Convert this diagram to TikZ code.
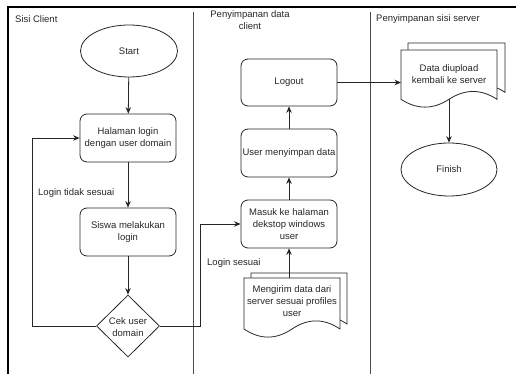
\documentclass[tikz,border=0pt]{standalone}
\usepackage{fontspec}
\setmainfont{Liberation Sans}
\usetikzlibrary{shapes.geometric,arrows.meta}
\definecolor{ink}{HTML}{262626}
\newcommand\mydoc[4]{%
  \pgfmathsetmacro\dA{#2+0.85*#4}%
  \pgfmathsetmacro\dU{#2+0.67*#4}%
  \pgfmathsetmacro\dD{#2+1.03*#4}%
  \draw[docline] (#1,#2) -- (#1+#3,#2) -- (#1+#3,\dA)
    .. controls (#1+#3*5/6,\dU) and (#1+#3*2/3,\dU) .. (#1+#3/2,\dA)
    .. controls (#1+#3/3,\dD) and (#1+#3/6,\dD) .. (#1,\dA) -- cycle;}
\begin{document}
\begin{tikzpicture}[x=1pt,y=-1pt,
  font=\fontsize{9.5}{12}\selectfont,
  txt/.style={text=ink, align=center, inner sep=0pt},
  proc/.style={draw=ink, line width=0.8pt, rounded corners=7pt, minimum width=96pt,
    minimum height=48pt, align=center, text=ink, inner sep=1pt},
  term/.style={draw=ink, line width=0.8pt, ellipse, minimum width=97pt, minimum height=52pt,
    text=ink, inner sep=0pt},
  docline/.style={draw=ink, line width=0.8pt, fill=white},
  docbox/.style={draw=none, minimum width=96pt, minimum height=58pt, inner sep=0pt},
  arr/.style={draw=ink, line width=0.8pt, -{Stealth[length=6.5pt,width=5.5pt]}},
  lane/.style={draw=black!70, line width=0.8pt}]
\useasboundingbox (0,0) rectangle (516,374);
% frame and lanes
\draw[line width=2pt, black] (516,7.5) -- (7.5,7.5) -- (7.5,374);
\draw[lane] (193,12) -- (193,374);
\draw[lane] (370,12) -- (370,374);
\node[txt, anchor=west] (lane1) at (15,19) {Sisi Client};
\node[txt] (lane2) at (250,20.5) {Penyimpanan data\\client};
\node[txt, anchor=west] (lane3) at (376,19.5) {Penyimpanan sisi server};

% client lane
\node[term] (start) at (129,51) {Start};
\node[proc] (login) at (128,138) {Halaman login\\dengan user domain};
\node[proc] (siswa) at (128,232) {Siswa melakukan\\login};
\node[diamond, draw=ink, line width=0.8pt, minimum width=63pt, minimum height=62pt,
  inner sep=0pt] (cek) at (128,326) {};
\node[txt] (cektext) at (128,327.5) {Cek user\\domain};

% data client lane
\node[proc, minimum height=47pt] (logout) at (289,82.5) {Logout};
\node[proc] (user) at (289,153) {User menyimpan data};
\node[proc] (masuk) at (289,224) {Masuk ke halaman\\dekstop windows\\user};
\mydoc{251}{273}{96}{60}
\mydoc{244}{278}{96}{60}
\node[docbox, minimum height=60pt, anchor=north west] (mengirim) at (244,278) {};
\node[txt] (mengirimtext) at (292,301) {Mengirim data dari\\server sesuai profiles\\user};

% server lane
\mydoc{408}{43}{97}{58}
\mydoc{401}{50}{96}{58}
\node[docbox, anchor=north west] (data) at (401,50) {};
\node[txt] (datatext) at (449,74) {Data diupload\\kembali ke server};
\coordinate (databot) at (449,99.3);
\node[term, minimum width=96pt, minimum height=53pt] (finish) at (449,169.5) {Finish};

% connectors
\draw[arr] (start) -- (login);
\draw[arr] (login) -- (siswa);
\draw[arr] (siswa) -- (cek);
\draw[arr] (cek.west) -- ++(-64,0) |- (login.west);
\draw[arr] (cek.east) -- ++(40.5,0) |- (masuk.west);
\draw[arr] (masuk.south |- mengirim.north) -- (masuk.south);
\draw[arr] (masuk) -- (user);
\draw[arr] (user) -- (logout);
\draw[arr] (logout.east) -- (logout.east -| data.west);
\draw[arr] (databot) -- (finish);

% labels
\node[txt, anchor=west] (ltidak) at (38,193) {Login tidak sesuai};
\node[txt, anchor=west] (lsesuai) at (207,263) {Login sesuai};
\end{tikzpicture}
\end{document}
